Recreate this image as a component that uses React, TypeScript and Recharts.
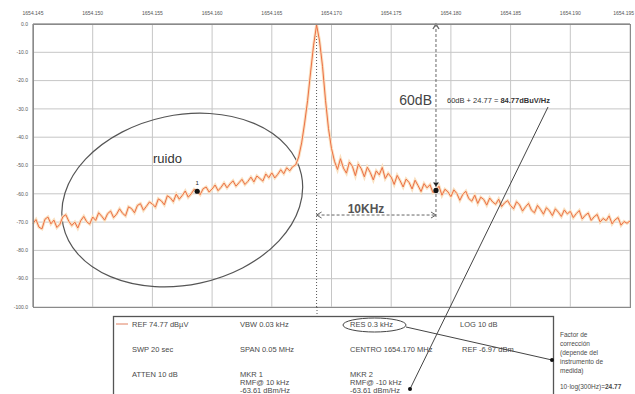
import {
  CartesianGrid,
  ComposedChart,
  Line,
  ReferenceArea,
  ReferenceDot,
  ReferenceLine,
  XAxis,
  YAxis,
} from "recharts";

// frequency offset (kHz) from the left edge of the span
const STEP_KHZ = 0.25;
const xTicksKHz = [0, 5, 10, 15, 20, 25, 30, 35, 40, 45, 50];
const xTickLabels = [
  "1654.145", "1654.150", "1654.155", "1654.160", "1654.165", "1654.170",
  "1654.175", "1654.180", "1654.185", "1654.190", "1654.195",
];
const yTicks = [0, -10, -20, -30, -40, -50, -60, -70, -80, -90, -100];
const yTickLabels = [
  "0.0", "-10.0", "-20.0", "-30.0", "-40.0", "-50.0",
  "-60.0", "-70.0", "-80.0", "-90.0", "-100.0",
];

// trace level in dB, one value per 0.25 kHz
const traceDb = [
  -70.5, -69.1, -71.8, -72.4, -69.0, -68.2, -70.6, -69.3, -71.9, -70.8,
  -68.1, -67.4, -69.7, -71.2, -70.0, -72.1, -69.5, -68.0, -69.9, -70.7,
  -68.2, -69.4, -66.7, -67.9, -69.3, -67.0, -66.1, -68.4, -67.2, -65.3,
  -66.9, -67.8, -64.6, -65.2, -66.7, -64.1, -63.5, -65.8, -64.4, -62.9,
  -63.6, -64.7, -61.8, -62.5, -63.9, -60.7, -61.4, -62.8, -60.1, -61.9,
  -60.6, -59.0, -61.2, -60.0, -58.4, -59.1, -60.3, -58.2, -57.6, -59.4,
  -58.3, -56.9, -58.9, -57.7, -56.2, -57.9, -56.5, -55.4, -57.3, -56.1,
  -54.9, -56.7, -55.6, -54.1, -55.8, -53.7, -54.6, -55.5, -53.0, -54.3,
  -52.6, -54.4, -53.1, -51.5, -52.9, -50.8, -51.9, -50.4, -49.8,
  -47.0, -42.0, -35.0, -27.0, -17.0, -7.5, -0.3, -6.0, -15.0, -27.0, -37.0, -44.0, -48.5,
  -51.4, -47.6, -50.9, -52.7, -48.8, -50.3, -53.6, -49.5, -51.2, -54.0,
  -50.6, -52.5, -55.1, -51.9, -53.3, -50.7, -54.6, -52.8,
  -54.1, -56.7, -53.5, -55.4, -57.6, -54.8, -56.0, -58.3, -55.2, -57.1,
  -59.2, -56.4, -57.9, -56.8, -59.6, -58.8, -57.3, -60.5, -58.4, -59.3,
  -61.0, -58.6, -59.9, -62.3, -60.2, -59.1, -61.7, -62.6, -60.5, -63.4,
  -61.2, -62.0, -64.0, -61.5, -62.9, -63.7, -61.9, -64.5, -63.2, -62.4,
  -64.2, -65.3, -62.8, -63.9, -66.1, -64.6, -63.4, -65.8, -66.7, -64.1,
  -65.5, -67.2, -64.9, -66.0, -67.7, -65.3, -66.5, -68.0, -65.7, -67.1,
  -66.2, -68.4, -67.0, -65.9, -68.9, -67.6, -66.8, -69.4, -68.1, -67.3,
  -70.0, -68.7, -69.5, -67.8, -70.6, -69.2, -68.4, -71.1, -69.8, -70.4, -69.6,
];

const PEAK_KHZ = 23.75;
const markers = [
  { name: "1", f: 13.75, db: traceDb[55] },
  { name: "2", f: 33.75, db: traceDb[135] },
];

const data = traceDb.map((db, i) => ({ f: i * STEP_KHZ, db }));

const FONT = '"Liberation Sans", Arial, sans-serif';
const TXT = "#4a4a4a";

function TopTick(props: any) {
  const { x, y, payload, index } = props;
  const last = index === xTicksKHz.length - 1;
  return (
    <text
      x={last ? x + 4 : x}
      y={y}
      fontSize={5}
      fill="#555"
      fontFamily={FONT}
      textAnchor={last ? "end" : "middle"}
    >
      {xTickLabels[xTicksKHz.indexOf(payload.value)]}
    </text>
  );
}

function RuidoEllipse(props: any) {
  const { x, y, width, height } = props;
  const cx = x + width / 2;
  const cy = y + height / 2;
  return (
    <ellipse
      cx={cx}
      cy={cy}
      rx={width / 2}
      ry={height / 2}
      transform={`rotate(-12 ${cx} ${cy})`}
      fill="none"
      stroke="#555"
      strokeWidth={1.2}
    />
  );
}

function SpanArrow(props: any) {
  const { x1, y1, x2, y2 } = props;
  return (
    <g stroke="#666" fill="none" strokeWidth={1}>
      <line x1={x1} y1={y1} x2={x2} y2={y2} strokeDasharray="3 2" />
      <polyline points={`${x1 + 5},${y1 - 3} ${x1},${y1} ${x1 + 5},${y1 + 3}`} />
      <polyline points={`${x2 - 5},${y2 - 3} ${x2},${y2} ${x2 - 5},${y2 + 3}`} />
    </g>
  );
}

function LevelArrow(props: any) {
  const { x1, y1, x2, y2 } = props;
  const top = Math.min(y1, y2);
  return (
    <g stroke="#666" fill="none" strokeWidth={1}>
      <line x1={x1} y1={y1} x2={x2} y2={y2} strokeDasharray="3 2" />
      <polyline points={`${x1 - 3},${top + 5} ${x1},${top} ${x1 + 3},${top + 5}`} strokeWidth={1.4} />
    </g>
  );
}

function MarkerShape(props: any) {
  const { cx, cy, payload } = props;
  return (
    <g>
      <circle cx={cx} cy={cy} r={2.6} fill="#111" />
      {payload === "2" ? (
        <path d={`M${cx - 3},${cy - 8} L${cx + 3},${cy - 8} L${cx},${cy - 4} Z`} fill="#222" />
      ) : (
        <text x={cx} y={cy - 6} fontSize={6} textAnchor="middle" fill="#222" fontFamily={FONT}>
          {payload}
        </text>
      )}
    </g>
  );
}

export default function App() {
  return (
    <div
      style={{
        position: "absolute",
        left: 0,
        top: 0,
        width: 635,
        height: 394,
        background: "#fff",
        overflow: "hidden",
        fontFamily: FONT,
      }}
    >
      <ComposedChart width={635} height={394} data={data} margin={{ top: 0, right: 5, bottom: 87, left: 0 }}>
        <CartesianGrid stroke="#c6c6c6" strokeWidth={1} />
        <XAxis
          type="number"
          dataKey="f"
          domain={[0, 50]}
          ticks={xTicksKHz}
          interval={0}
          orientation="top"
          height={24}
          tickSize={0}
          tickMargin={9}
          tickLine={false}
          axisLine={{ stroke: "#808080" }}
          tick={TopTick}
        />
        <YAxis
          type="number"
          domain={[-100, 0]}
          ticks={yTicks}
          interval={0}
          width={33}
          tickSize={0}
          tickMargin={5}
          tickLine={false}
          axisLine={{ stroke: "#808080" }}
          tick={{ fontSize: 5, fill: "#555", fontFamily: FONT }}
          tickFormatter={(v: number) => yTickLabels[yTicks.indexOf(v)]}
        />
        <ReferenceArea x1={2.3} x2={22.7} y1={-32.2} y2={-92.2} shape={RuidoEllipse} />
        <ReferenceLine x={PEAK_KHZ} stroke="#555" strokeDasharray="1 2" />
        <Line
          dataKey="db"
          stroke="#fae0c0"
          strokeWidth={3}
          dot={false}
          isAnimationActive={false}
        />
        <Line
          dataKey="db"
          stroke="#ec6f45"
          strokeWidth={1}
          dot={false}
          isAnimationActive={false}
        />
        <ReferenceLine
          segment={[
            { x: markers[1].f, y: 0 },
            { x: markers[1].f, y: -69 },
          ]}
          shape={LevelArrow}
        />
        <ReferenceLine
          segment={[
            { x: PEAK_KHZ, y: -67.5 },
            { x: markers[1].f, y: -67.5 },
          ]}
          shape={SpanArrow}
        />
        {markers.map((m) => (
          <ReferenceDot
            key={m.name}
            x={m.f}
            y={m.db}
            r={3}
            shape={(p: any) => <MarkerShape {...p} payload={m.name} />}
          />
        ))}
      </ComposedChart>

      <svg
        width={635}
        height={394}
        style={{ position: "absolute", left: 0, top: 0, pointerEvents: "none" }}
        fontFamily={FONT}
      >
        <rect x={33.5} y={24.5} width={597} height={283} fill="none" stroke="#8a8a8a" />
        <line x1={317} y1={307} x2={317} y2={316} stroke="#555" strokeDasharray="1 2" />

        <text x={153} y={163} fontSize={13} fill="#333">ruido</text>
        <text x={432} y={105} fontSize={14} fill="#444" textAnchor="end">60dB</text>
        <text x={366} y={213} fontSize={12} fill="#555" fontWeight="bold" textAnchor="middle">10KHz</text>
        <text x={447} y={103} fontSize={7.5} fill="#333">
          60dB + 24.77 = <tspan fontWeight="bold">84.77dBuV/Hz</tspan>
        </text>

        {/* settings table */}
        <rect x={113.5} y={316.5} width={440} height={90} fill="none" stroke="#555" strokeWidth={1.3} />
        <line x1={116} y1={324} x2={128} y2={324} stroke="#e08060" strokeWidth={1} />
        <g fontSize={7.5} fill={TXT}>
          <text x={132} y={327}>REF 74.77 dBµV</text>
          <text x={240} y={327}>VBW 0.03 kHz</text>
          <text x={350} y={327}>RES 0.3 kHz</text>
          <text x={460} y={327}>LOG 10 dB</text>
          <text x={132} y={352}>SWP 20 sec</text>
          <text x={240} y={352}>SPAN 0.05 MHz</text>
          <text x={350} y={352}>CENTRO 1654.170 MHz</text>
          <text x={462} y={352}>REF -6.97 dBm</text>
          <text x={132} y={377}>ATTEN 10 dB</text>
          <text x={240} y={377}>MKR 1</text>
          <text x={240} y={385}>RMF@ 10 kHz</text>
          <text x={240} y={393}>-63.61 dBm/Hz</text>
          <text x={350} y={377}>MKR 2</text>
          <text x={350} y={385}>RMF@ -10 kHz</text>
          <text x={350} y={393}>-63.61 dBm/Hz</text>
        </g>
        <ellipse cx={374.5} cy={325} rx={31.5} ry={7} fill="none" stroke="#444" strokeWidth={1} />
        <line x1={406} y1={327} x2={552} y2={360} stroke="#444" strokeWidth={1} />
        <circle cx={552} cy={360} r={2} fill="#111" />
        <line x1={548} y1={107} x2={410} y2={389} stroke="#444" strokeWidth={1} />
        <circle cx={410} cy={389} r={2} fill="#111" />

        <g fontSize={6.5} fill={TXT}>
          <text x={560} y={337}>Factor de</text>
          <text x={560} y={346}>corrección</text>
          <text x={560} y={355}>(depende del</text>
          <text x={560} y={364}>instrumento de</text>
          <text x={560} y={373}>medida)</text>
          <text x={560} y={389}>
            10·log(300Hz)=<tspan fontWeight="bold">24.77</tspan>
          </text>
        </g>
      </svg>
    </div>
  );
}
